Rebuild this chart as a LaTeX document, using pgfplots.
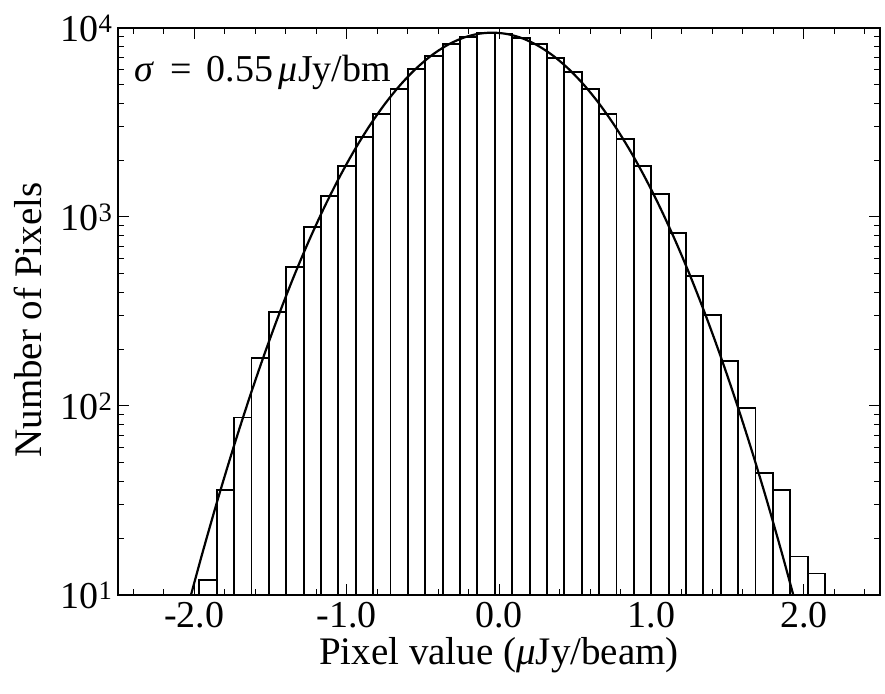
\documentclass[border=0pt]{standalone}
\usepackage{fontspec}
\setmainfont{Liberation Serif}
\usepackage{pgfplots}
\pgfplotsset{compat=1.18}
\begin{document}
\begin{tikzpicture}
\begin{axis}[
  name=ax, at={(0,0)}, anchor=south west,
  scale only axis, width=762pt, height=567pt,
  xmin=-2.5, xmax=2.5, ymin=10, ymax=10000,
  ymode=log, log origin=infty,
  axis line style={line width=1.2pt},
  tick align=inside,
  major tick length=11pt, minor tick length=6pt,
  every tick/.style={line width=1pt, black},
  xtick={-2,-1,0,1,2},
  xticklabels={-2.0,-1.0,0.0,1.0,2.0},
  minor xtick={-2.4,-2.2,-1.8,-1.6,-1.4,-1.2,-0.8,-0.6,-0.4,-0.2,0.2,0.4,0.6,0.8,1.2,1.4,1.6,1.8,2.2,2.4},
  ytick={10,100,1000,10000},
  yticklabels={10\textsuperscript{1},10\textsuperscript{2},10\textsuperscript{3},10\textsuperscript{4}},
  minor ytick={20,30,40,50,60,70,80,90,200,300,400,500,600,700,800,900,2000,3000,4000,5000,6000,7000,8000,9000},
  tick label style={font=\fontsize{38}{40}\selectfont},
  xticklabel style={yshift=-4pt},
  yticklabel style={xshift=-2pt},
  xlabel={Pixel value (\textit{μ}Jy/beam)},
  ylabel={Number of Pixels},
  every axis x label/.style={at={(axis description cs:0.5,-0.106)}, anchor=center, font=\fontsize{39}{41}\selectfont},
  every axis y label/.style={at={(axis description cs:-0.118,0.485)}, rotate=90, anchor=center, font=\fontsize{39}{41}\selectfont},
]
\addplot[ybar interval, draw=black, fill=none, line width=1.8pt] coordinates {
(-1.966,12) (-1.852,36) (-1.738,87) (-1.624,179) (-1.510,313) (-1.396,546)
(-1.282,881) (-1.168,1291) (-1.054,1862) (-0.940,2649) (-0.826,3524) (-0.712,4743)
(-0.598,6067) (-0.484,7111) (-0.370,8263) (-0.256,8954) (-0.142,9376) (-0.027,9340)
(0.087,8832) (0.201,8200) (0.315,6966) (0.429,5873) (0.543,4743) (0.657,3524)
(0.771,2594) (0.885,1862) (0.999,1318) (1.113,826) (1.227,489) (1.341,302)
(1.455,173) (1.569,98) (1.683,44) (1.797,36) (1.911,16) (2.025,13) (2.139,13)
};
\addplot[smooth, black, line width=2.2pt] coordinates {
(-2.021,10.01) (-1.945,16.79) (-1.845,32.13) (-1.745,59.35) (-1.645,105.9)
(-1.545,182.4) (-1.445,303.4) (-1.345,487.3) (-1.245,755.5) (-1.145,1131)
(-1.045,1635) (-0.945,2282) (-0.845,3074) (-0.745,4000) (-0.645,5024)
(-0.545,6093) (-0.445,7137) (-0.345,8068) (-0.245,8810) (-0.145,9286)
(-0.045,9450)
(0.055,9286) (0.155,8810) (0.255,8068) (0.355,7137) (0.455,6093)
(0.555,5024) (0.655,4000) (0.755,3074) (0.855,2282) (0.955,1635)
(1.055,1131) (1.155,755.5) (1.255,487.3) (1.355,303.4) (1.455,182.4)
(1.555,105.9) (1.655,59.35) (1.755,32.13) (1.855,16.79) (1.931,10.01)
};
\node[anchor=base west, inner sep=0pt, font=\fontsize{38}{40}\selectfont]
  at (axis description cs:0.022,0.905)
  {\textit{σ}\hspace{0.4em}=\hspace{0.4em}0.55\hspace{0.15em}\textit{μ}Jy/bm};
\end{axis}
\path (-118pt,-98pt) rectangle (767pt,595pt);
\end{tikzpicture}
\end{document}
